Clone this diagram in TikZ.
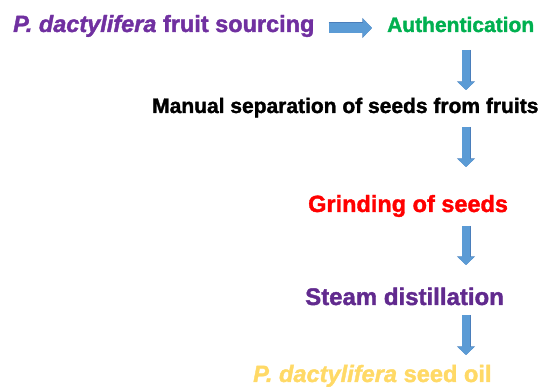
\documentclass[tikz,border=0pt]{standalone}
\usepackage{fontspec}
\setmainfont{Liberation Sans}[BoldFeatures={FakeBold=1.6}, BoldItalicFeatures={FakeBold=1.6}]
\usepackage{tikz}
\usetikzlibrary{arrows.meta,calc}

\definecolor{srcpurple}{HTML}{7030A0}
\definecolor{authgreen}{HTML}{00B050}
\definecolor{grindred}{HTML}{FF0000}
\definecolor{steampurple}{HTML}{612A8E}
\definecolor{oilgold}{HTML}{FFD966}
\definecolor{arrowfill}{HTML}{5B9BD5}
\definecolor{arrowedge}{HTML}{4A7EBB}

\newcommand{\fsz}[1]{\fontsize{#1}{#1}\selectfont}

\begin{document}
\begin{tikzpicture}[
  x=1pt, y=-1pt,
  every node/.style = {inner sep=0pt, anchor=base west, font=\bfseries},
  flow/.style  = {line width=8pt, arrowfill, -{Triangle[width=16pt,length=8pt]},
                  preaction={draw=arrowedge, line width=9pt, -{Triangle[width=17.5pt,length=8.6pt]}}},
  flowh/.style = {line width=10pt, arrowfill, -{Triangle[width=18pt,length=9pt]},
                  preaction={draw=arrowedge, line width=11pt, -{Triangle[width=19.5pt,length=9.6pt]}}}
]
  \useasboundingbox (0,0) rectangle (539,387);
  \coordinate (col) at (466,0);

  \node[text=srcpurple, font=\bfseries\fsz{23.5}] (src) at (13,32) {\textit{P. dactylifera} fruit sourcing};
  \node[text=authgreen, font=\bfseries\fsz{21}] (auth) at (387,32) {Authentication};
  \node[text=black, font=\bfseries\fsz{21}] (manual) at (152,113) {Manual separation of seeds from fruits};
  \node[text=grindred, font=\bfseries\fsz{23.5}] (grind) at (308,212) {Grinding of seeds};
  \node[text=steampurple, font=\bfseries\fsz{24}] (steam) at (305,305) {Steam distillation};
  \node[text=oilgold, font=\bfseries\fsz{23.6}] (oil) at (253,382) {\textit{P. dactylifera} seed oil};

  % arrows between steps
  \draw[flowh, shorten <=14pt, shorten >=15pt] ([yshift=4pt]src.base east) -- ([yshift=4pt]auth.base west);
  \draw[flow, shorten <=18pt, shorten >=23pt] (auth.base -| col) -- (manual.base -| col);
  \draw[flow, shorten <=14pt, shorten >=45pt] (manual.base -| col) -- (grind.base -| col);
  \draw[flow, shorten <=14pt, shorten >=40pt] (grind.base -| col) -- (steam.base -| col);
  \draw[flow, shorten <=10pt, shorten >=27pt] (steam.base -| col) -- (oil.base -| col);
\end{tikzpicture}
\end{document}
